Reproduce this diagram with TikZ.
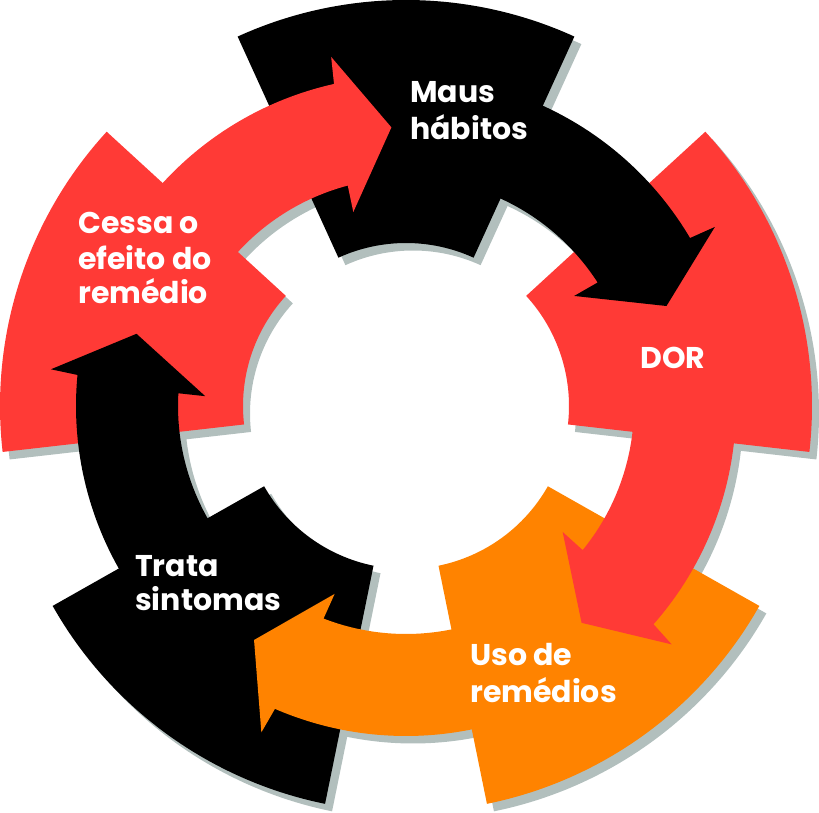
\documentclass[tikz,border=0pt]{standalone}
\usepackage{fontspec}
\setmainfont{Poppins}
\definecolor{cred}{RGB}{255,58,54}
\definecolor{corange}{RGB}{255,131,0}
\definecolor{cshadow}{RGB}{178,191,189}
\newcommand\blockpath{(114.5:406pt) arc[start angle=114.5,end angle=65.5,radius=406pt] -- (65.5:163pt) arc[start angle=65.5,end angle=114.5,radius=163pt] -- cycle}
\newcommand\bandpath{(66.5:330pt) arc[start angle=66.5,end angle=30.6,radius=330pt] -- (30.1:357pt) -- (21:279pt) -- (33.2:201pt) -- (32.8:228pt) arc[start angle=32.8,end angle=66.5,radius=228pt] -- cycle}
\tikzset{
  lbl/.style={anchor=base west,inner sep=0pt,text=white,font=\fontsize{30}{36}\selectfont\bfseries},
}
\begin{document}
\begin{tikzpicture}[x=1pt,y=1pt]
\useasboundingbox (0,0) rectangle (819,812);
\coordinate (C) at (406,406);
% shadows
\foreach \k in {0,...,4}{
  \begin{scope}[shift={(413pt,398.5pt)},rotate=-72*\k]
    \fill[cshadow] \blockpath;
    \fill[cshadow] \bandpath;
  \end{scope}
}
% blocks
\foreach \k/\c in {0/black,1/cred,2/corange,3/black,4/cred}{
  \begin{scope}[shift={(C)},rotate=-72*\k]
    \fill[\c] \blockpath;
  \end{scope}
}
% bands and heads
\foreach \k/\c in {0/black,1/cred,2/corange,3/black,4/cred}{
  \begin{scope}[shift={(C)},rotate=-72*\k]
    \fill[\c] \bandpath;
  \end{scope}
}
\node[lbl] (maus1) at (410,709) {Maus};
\node[lbl] (maus2) at (410,672) {hábitos};
\node[lbl] (dor) at (640,443) {DOR};
\node[lbl] (uso1) at (470,147) {Uso de};
\node[lbl] (uso2) at (470,110) {remédios};
\node[lbl] (trata1) at (135,236) {Trata};
\node[lbl] (trata2) at (135,202) {sintomas};
\node[lbl] (cessa1) at (78,578) {Cessa o};
\node[lbl] (cessa2) at (78,542) {efeito do};
\node[lbl] (cessa3) at (78,508) {remédio};
\end{tikzpicture}
\end{document}
